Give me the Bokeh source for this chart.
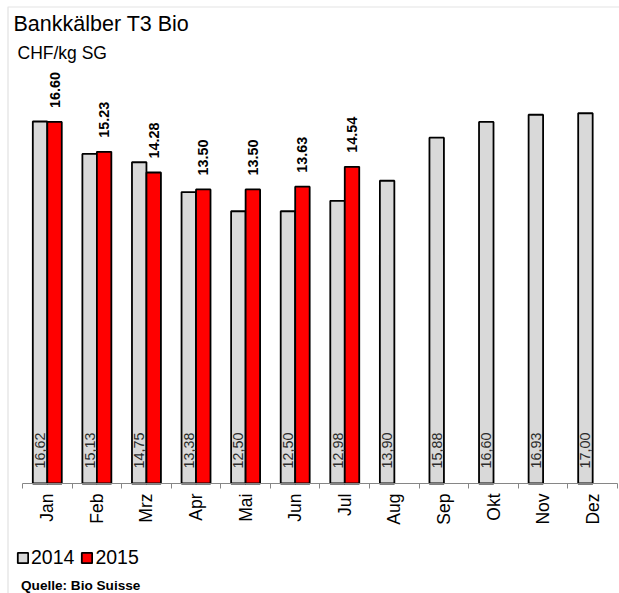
import math
from bokeh.plotting import figure
from bokeh.models import (ColumnDataSource, Range1d, FixedTicker, Label, Legend, LegendItem,
                          BoxAnnotation)
from bokeh.core.properties import value
from bokeh.embed import file_html
from bokeh.resources import INLINE

# ---- data ----
months = ["Jan", "Feb", "Mrz", "Apr", "Mai", "Jun", "Jul", "Aug", "Sep", "Okt", "Nov", "Dez"]
v2014 = [16.62, 15.13, 14.75, 13.38, 12.50, 12.50, 12.98, 13.90, 15.88, 16.60, 16.93, 17.00]
v2015 = [16.60, 15.23, 14.28, 13.50, 13.50, 13.63, 14.54]
series = ["2014", "2015"]
title_text = "Bankkälber T3 Bio"
unit_text = "CHF/kg SG"
source_text = "Quelle: Bio Suisse"

FONT = "Liberation Sans"
W, H = 619, 593
XU = 49.58          # px per month
YU = 21.78          # px per CHF
X0 = 22             # px from canvas left to first month boundary
Y0 = 110            # px from canvas bottom to zero line
BAR_W = 0.292
half = BAR_W / 2

s14 = ColumnDataSource(dict(
    x=[i + 0.5 - half for i in range(len(v2014))],
    top=v2014,
    label=[f"{v:.2f}".replace(".", ",") for v in v2014],
))
s15 = ColumnDataSource(dict(
    x=[i + 0.5 + half for i in range(len(v2015))],
    top=v2015,
    label=[f"{v:.2f}" for v in v2015],
))

p = figure(width=W, height=H,
           x_range=Range1d(-X0 / XU, (W - X0) / XU),
           y_range=Range1d(-Y0 / YU, (H - Y0) / YU),
           output_backend="svg", toolbar_location=None, y_axis_location=None,
           min_border_left=0, min_border_right=0, min_border_top=0, min_border_bottom=0)
p.outline_line_color = None
p.grid.visible = False
p.background_fill_color = "white"
p.border_fill_color = "white"

# outer chart border (only top and left edges fall inside the picture)
p.add_layout(BoxAnnotation(left=7.5, right=W + 20, top=H - 6.5, bottom=-20,
                           left_units="screen", right_units="screen",
                           top_units="screen", bottom_units="screen",
                           fill_alpha=0, line_color="#a0a0a0", line_width=1.2,
                           editable=False))

r14 = p.vbar(x="x", top="top", bottom=0, width=BAR_W, source=s14,
             fill_color="#D9D9D9", line_color="black", line_width=1.8)
r15 = p.vbar(x="x", top="top", bottom=0, width=BAR_W, source=s15,
             fill_color="#FF0000", line_color="black", line_width=1.8)

p.text(x="x", y=0, text="label", source=s14, angle=math.pi / 2, y_offset=-15,
       text_align="left", text_baseline="middle", text_font=value(FONT),
       text_font_size="14.4px", text_color="#2b2b2b")
p.text(x="x", y="top", text="label", source=s15, angle=math.pi / 2, y_offset=-14,
       text_align="left", text_baseline="middle", text_font=value(FONT),
       text_font_size="14.4px", text_font_style="bold", text_color="black")

ax = p.xaxis[0]
ax.fixed_location = 0
ax.bounds = (0, len(months))
ax.ticker = FixedTicker(ticks=[i + 0.5 for i in range(len(months))],
                        minor_ticks=list(range(len(months) + 1)))
ax.major_label_overrides = {i + 0.5: m for i, m in enumerate(months)}
ax.major_label_orientation = math.pi / 2
ax.major_label_text_font = FONT
ax.major_label_text_font_size = "17.5px"
ax.major_label_text_color = "black"
ax.major_label_standoff = 5
ax.major_tick_line_color = None
ax.major_tick_out = 5
ax.major_tick_in = 0
ax.minor_tick_line_color = "#868686"
ax.minor_tick_out = 5
ax.minor_tick_in = 0
ax.axis_line_color = "#868686"
ax.axis_line_width = 1

p.add_layout(Label(x=13, y=570, x_units="screen", y_units="screen", text=title_text,
                   text_font=FONT, text_font_size="21.5px", text_color="black",
                   text_baseline="alphabetic"))
p.add_layout(Label(x=17, y=541, x_units="screen", y_units="screen", text=unit_text,
                   text_font=FONT, text_font_size="17.5px", text_color="black",
                   text_baseline="alphabetic"))
p.add_layout(Label(x=20.5, y=8.5, x_units="screen", y_units="screen", text=source_text,
                   text_font=FONT, text_font_size="13.6px", text_font_style="bold",
                   text_color="black", text_baseline="alphabetic"))

legend = Legend(items=[LegendItem(label=series[0], renderers=[r14]),
                       LegendItem(label=series[1], renderers=[r15])],
                location=(16, 24), orientation="horizontal",
                glyph_width=13, glyph_height=13, label_standoff=2, spacing=6,
                padding=0, margin=0, border_line_color=None,
                background_fill_alpha=0,
                label_text_font=FONT, label_text_font_size="19.5px",
                label_text_color="black")
p.add_layout(legend)

open("out.html", "w").write(file_html(p, INLINE))
